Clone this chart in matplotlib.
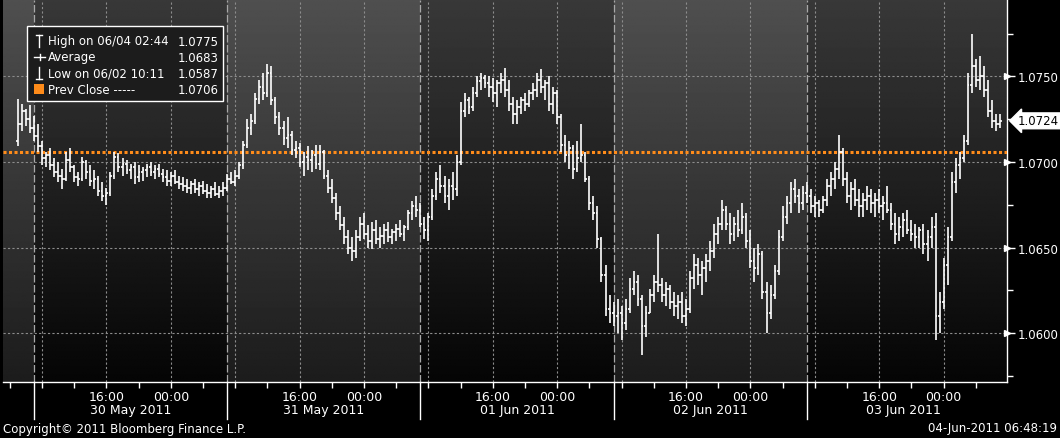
import matplotlib
matplotlib.use("Agg")
import matplotlib.dates as mdates
import matplotlib.pyplot as plt
import matplotlib.transforms as mtransforms
import numpy as np
import pandas as pd
from matplotlib.lines import Line2D
from matplotlib.patches import Rectangle
from matplotlib.ticker import FixedLocator, FormatStrFormatter

W, H = 1060, 439

# 30 minute bars, prices in pips (1e-4)
bar_start = "2011-05-30 05:00"
highs = [
    10737, 10734, 10731, 10733, 10727, 10722, 10712, 10706, 10708, 10702,
    10700, 10696, 10706, 10708, 10698, 10694, 10703, 10701, 10698, 10695,
    10692, 10688, 10685, 10694, 10706, 10705, 10702, 10701, 10699, 10700,
    10698, 10697, 10699, 10700, 10698, 10699, 10696, 10695, 10694, 10695,
    10692, 10691, 10690, 10689, 10690, 10688, 10689, 10687, 10686, 10688,
    10686, 10688, 10693, 10694, 10695, 10700, 10712, 10725, 10728, 10740,
    10748, 10752, 10757, 10756, 10738, 10729, 10724, 10726, 10718, 10712,
    10711, 10706, 10709, 10707, 10710, 10710, 10707, 10695, 10690, 10682,
    10674, 10668, 10660, 10656, 10660, 10668, 10670, 10663, 10665, 10666,
    10662, 10664, 10665, 10661, 10664, 10666, 10663, 10672, 10677, 10680,
    10676, 10668, 10670, 10684, 10694, 10698, 10692, 10690, 10694, 10704,
    10735, 10740, 10738, 10744, 10750, 10752, 10751, 10750, 10749, 10748,
    10752, 10755, 10748, 10738, 10736, 10738, 10740, 10742, 10746, 10752,
    10754, 10748, 10750, 10744, 10742, 10728, 10716, 10712, 10710, 10712,
    10722, 10706, 10692, 10680, 10674, 10656, 10640, 10622, 10618, 10620,
    10616, 10620, 10632, 10636, 10634, 10622, 10616, 10626, 10634, 10658,
    10632, 10630, 10628, 10624, 10622, 10624, 10620, 10636, 10646, 10644,
    10642, 10646, 10654, 10664, 10668, 10678, 10674, 10670, 10668, 10672,
    10676, 10670, 10660, 10650, 10652, 10648, 10630, 10628, 10640, 10660,
    10674, 10680, 10688, 10690, 10684, 10686, 10688, 10684, 10680, 10678,
    10680, 10690, 10694, 10700, 10716, 10708, 10694, 10688, 10690, 10684,
    10682, 10686, 10684, 10682, 10684, 10680, 10686, 10676, 10670, 10668,
    10670, 10672, 10666, 10664, 10662, 10664, 10660, 10668, 10670, 10624,
    10644, 10662, 10694, 10702, 10706, 10716, 10752, 10775, 10760, 10762,
    10756, 10748, 10736, 10728, 10728,
]
lows = [
    10709, 10718, 10721, 10717, 10712, 10706, 10698, 10697, 10695, 10691,
    10688, 10684, 10689, 10694, 10688, 10686, 10689, 10690, 10686, 10684,
    10680, 10677, 10675, 10680, 10690, 10694, 10692, 10693, 10690, 10687,
    10688, 10689, 10691, 10692, 10690, 10691, 10688, 10686, 10686, 10687,
    10684, 10683, 10682, 10681, 10682, 10680, 10681, 10679, 10679, 10680,
    10679, 10680, 10683, 10687, 10686, 10690, 10696, 10708, 10716, 10722,
    10734, 10736, 10738, 10733, 10722, 10716, 10710, 10708, 10704, 10702,
    10697, 10692, 10695, 10694, 10696, 10695, 10690, 10682, 10676, 10666,
    10660, 10652, 10646, 10642, 10644, 10654, 10655, 10650, 10649, 10652,
    10650, 10652, 10653, 10652, 10654, 10656, 10654, 10660, 10666, 10668,
    10662, 10655, 10654, 10666, 10678, 10682, 10676, 10672, 10678, 10680,
    10698, 10726, 10728, 10730, 10738, 10742, 10743, 10738, 10735, 10732,
    10740, 10738, 10730, 10722, 10722, 10728, 10730, 10732, 10736, 10738,
    10740, 10736, 10730, 10728, 10722, 10706, 10700, 10696, 10690, 10694,
    10700, 10688, 10672, 10666, 10650, 10630, 10610, 10606, 10604, 10600,
    10596, 10602, 10612, 10622, 10616, 10587, 10598, 10612, 10618, 10624,
    10618, 10616, 10614, 10610, 10608, 10606, 10604, 10612, 10626, 10628,
    10622, 10630, 10636, 10644, 10652, 10660, 10660, 10652, 10654, 10656,
    10658, 10650, 10638, 10630, 10634, 10620, 10600, 10608, 10620, 10634,
    10654, 10664, 10670, 10676, 10670, 10672, 10676, 10670, 10668, 10668,
    10670, 10674, 10680, 10684, 10690, 10686, 10676, 10672, 10674, 10668,
    10668, 10672, 10670, 10668, 10670, 10666, 10670, 10660, 10652, 10654,
    10656, 10658, 10654, 10650, 10650, 10646, 10642, 10650, 10596, 10600,
    10614, 10628, 10654, 10682, 10690, 10700, 10710, 10740, 10744, 10742,
    10738, 10726, 10720, 10718, 10720,
]
opens = [
    10712, 10722, 10730, 10725, 10720, 10715, 10709, 10702, 10704, 10698,
    10694, 10692, 10690, 10701, 10697, 10691, 10690, 10700, 10694, 10689,
    10690, 10683, 10680, 10682, 10692, 10703, 10697, 10699, 10695, 10697,
    10691, 10694, 10695, 10697, 10694, 10696, 10693, 10691, 10689, 10692,
    10688, 10687, 10686, 10685, 10687, 10684, 10686, 10683, 10682, 10684,
    10681, 10683, 10685, 10690, 10688, 10692, 10698, 10710, 10720, 10724,
    10737, 10744, 10740, 10752, 10736, 10726, 10720, 10714, 10716, 10707,
    10708, 10700, 10703, 10701, 10704, 10699, 10706, 10692, 10685, 10679,
    10670, 10663, 10656, 10650, 10648, 10656, 10664, 10658, 10654, 10660,
    10655, 10657, 10660, 10656, 10659, 10661, 10658, 10662, 10670, 10674,
    10672, 10664, 10660, 10668, 10680, 10690, 10686, 10680, 10686, 10684,
    10700, 10730, 10736, 10732, 10740, 10747, 10749, 10746, 10744, 10740,
    10746, 10748, 10742, 10734, 10728, 10732, 10736, 10734, 10740, 10742,
    10748, 10744, 10746, 10734, 10740, 10726, 10710, 10704, 10708, 10696,
    10702, 10704, 10690, 10676, 10670, 10655, 10634, 10614, 10612, 10610,
    10612, 10606, 10614, 10626, 10630, 10620, 10604, 10612, 10622, 10630,
    10628, 10622, 10626, 10618, 10616, 10618, 10610, 10614, 10632, 10640,
    10634, 10638, 10642, 10648, 10658, 10664, 10672, 10664, 10658, 10664,
    10660, 10668, 10654, 10642, 10638, 10646, 10624, 10612, 10622, 10636,
    10656, 10668, 10676, 10684, 10680, 10676, 10682, 10680, 10674, 10676,
    10672, 10678, 10686, 10690, 10696, 10706, 10690, 10680, 10684, 10678,
    10674, 10678, 10680, 10676, 10678, 10674, 10676, 10672, 10664, 10658,
    10662, 10666, 10660, 10658, 10656, 10660, 10652, 10656, 10662, 10610,
    10618, 10640, 10656, 10688, 10698, 10702, 10712, 10745, 10756, 10748,
    10750, 10742, 10730, 10724, 10722,
]
closes = [
    10722, 10730, 10725, 10720, 10715, 10709, 10702, 10704, 10698, 10694,
    10692, 10690, 10701, 10697, 10691, 10690, 10700, 10694, 10689, 10690,
    10683, 10680, 10682, 10692, 10703, 10697, 10699, 10695, 10697, 10691,
    10694, 10695, 10697, 10694, 10696, 10693, 10691, 10689, 10692, 10688,
    10687, 10686, 10685, 10687, 10684, 10686, 10683, 10682, 10684, 10681,
    10683, 10685, 10690, 10688, 10692, 10698, 10710, 10720, 10724, 10737,
    10744, 10740, 10752, 10736, 10726, 10720, 10714, 10716, 10707, 10708,
    10700, 10703, 10701, 10704, 10699, 10706, 10692, 10685, 10679, 10670,
    10663, 10656, 10650, 10648, 10656, 10664, 10658, 10654, 10660, 10655,
    10657, 10660, 10656, 10659, 10661, 10658, 10662, 10670, 10674, 10672,
    10664, 10660, 10668, 10680, 10690, 10686, 10680, 10686, 10684, 10700,
    10730, 10736, 10732, 10740, 10747, 10749, 10746, 10744, 10740, 10746,
    10748, 10742, 10734, 10728, 10732, 10736, 10734, 10740, 10742, 10748,
    10744, 10746, 10734, 10740, 10726, 10710, 10704, 10708, 10696, 10702,
    10704, 10690, 10676, 10670, 10655, 10634, 10614, 10612, 10610, 10612,
    10606, 10614, 10626, 10630, 10620, 10604, 10612, 10622, 10630, 10628,
    10622, 10626, 10618, 10616, 10618, 10610, 10614, 10632, 10640, 10634,
    10638, 10642, 10648, 10658, 10664, 10672, 10664, 10658, 10664, 10660,
    10668, 10654, 10642, 10638, 10646, 10624, 10612, 10622, 10636, 10656,
    10668, 10676, 10684, 10680, 10676, 10682, 10680, 10674, 10676, 10672,
    10678, 10686, 10690, 10696, 10706, 10690, 10680, 10684, 10678, 10674,
    10678, 10680, 10676, 10678, 10674, 10676, 10672, 10664, 10658, 10662,
    10666, 10660, 10658, 10656, 10660, 10652, 10656, 10662, 10610, 10618,
    10640, 10656, 10688, 10698, 10702, 10712, 10745, 10756, 10748, 10750,
    10742, 10730, 10724, 10722, 10724,
]

prev_close = 1.0706
last_price = 1.0724
stat_labels = ["High on 06/04 02:44", "Average", "Low on 06/02 10:11", "Prev Close -----"]
stat_values = ["1.0775", "1.0683", "1.0587", "1.0706"]
day_starts = ["2011-05-30 07:00", "2011-05-31 07:00", "2011-06-01 07:00",
              "2011-06-02 07:00", "2011-06-03 07:00"]
day_labels = ["30 May 2011", "31 May 2011", "01 Jun 2011", "02 Jun 2011", "03 Jun 2011"]
price_ticks = [1.0600, 1.0650, 1.0700, 1.0750]
price_minor = [1.0575, 1.0625, 1.0675, 1.0725, 1.0775]

plt.rcParams["font.family"] = ["DejaVu Sans"]
FS = 8.5
ORANGE = "#ff8c1a"


def fx(x):
    return x / W


def fy(y):
    return 1 - y / H


times = pd.date_range(bar_start, periods=len(closes), freq="30min")
t = mdates.date2num(times)
hi = np.array(highs) / 1e4
lo = np.array(lows) / 1e4
op = np.array(opens) / 1e4
cl = np.array(closes) / 1e4

# axis limits follow the reference layout (8.05 px per hour)
px_hour = 8.05
t_ref = pd.Timestamp("2011-05-30 08:00")
x_left = t_ref - pd.Timedelta(hours=39 / px_hour)
x_right = x_left + pd.Timedelta(hours=1004 / px_hour)
y_lo, y_hi = 1.057144, 1.079457

fig = plt.figure(figsize=(W / 100, H / 100), dpi=100, facecolor="black")
ax = fig.add_axes([fx(3), fy(383), 1004 / W, 382 / H])
ax.set_facecolor("black")

# day panels, alternating shade with vertical gradient
bounds = [x_left] + [pd.Timestamp(d) for d in day_starts] + [x_right]
for k in range(len(bounds) - 1):
    top, bottom = (0.31, 0.11) if k % 2 == 0 else (0.22, 0.02)
    grad = np.linspace(top, bottom, 256).reshape(-1, 1)
    ax.imshow(grad, cmap="gray", vmin=0, vmax=1, aspect="auto", origin="upper",
              interpolation="bilinear", zorder=0,
              extent=[mdates.date2num(bounds[k]), mdates.date2num(bounds[k + 1]), y_lo, y_hi])

# grid
for p in price_ticks:
    ax.axhline(p, color="#8c8c8c", lw=0.8, ls=(0, (2, 2)), zorder=1)
for g in pd.date_range("2011-05-30 08:00", "2011-06-04 08:00", freq="8h"):
    ax.axvline(g, color="#8c8c8c", lw=0.8, ls=(0, (2, 2)), zorder=1)
for d in day_starts:
    ax.axvline(pd.Timestamp(d), color="#a8a8a8", lw=0.9, ls=(0, (6, 2)), zorder=1)

ax.axhline(prev_close, color=ORANGE, lw=2.2, ls=(0, (1, 0.8)), zorder=4)

# OHLC bars
tick = 13 / 1440
ax.vlines(t, lo, hi, color="white", lw=1.2, zorder=5)
ax.hlines(op, t - tick, t, color="white", lw=1.2, zorder=5)
ax.hlines(cl, t, t + tick, color="white", lw=1.2, zorder=5)

ax.set_xlim(mdates.date2num(x_left), mdates.date2num(x_right))
ax.set_ylim(y_lo, y_hi)

for side in ["left", "top"]:
    ax.spines[side].set_visible(False)
for side in ["right", "bottom"]:
    ax.spines[side].set_color("white")
    ax.spines[side].set_linewidth(1.0)

ax.yaxis.tick_right()
ax.yaxis.set_major_locator(FixedLocator(price_ticks))
ax.yaxis.set_minor_locator(FixedLocator(price_minor))
ax.yaxis.set_major_formatter(FormatStrFormatter("%.4f"))
ax.tick_params(axis="y", which="major", colors="white", length=6, width=1,
               pad=2, labelsize=FS)
ax.tick_params(axis="y", which="minor", colors="white", length=4, width=1)
ax.plot([1.0] * len(price_ticks), price_ticks, ls="none", marker=">", ms=4,
        color="white", transform=ax.get_yaxis_transform(), clip_on=False, zorder=6)

ax.xaxis.set_major_locator(mdates.HourLocator(byhour=[0, 16]))
ax.xaxis.set_major_formatter(mdates.DateFormatter("%H:%M"))
ax.xaxis.set_minor_locator(mdates.HourLocator(byhour=range(0, 24, 4)))
ax.tick_params(axis="x", which="both", colors="white", length=4, width=1,
               pad=2, labelsize=FS + 0.5)

# day separators below the axis and date labels
for d in day_starts:
    ax.add_line(Line2D([mdates.date2num(pd.Timestamp(d))] * 2, [0, -37 / 382],
                       transform=ax.get_xaxis_transform(), color="white", lw=1,
                       clip_on=False))
for k, lab in enumerate(day_labels):
    mid = mdates.date2num(pd.Timestamp(day_starts[k]) + pd.Timedelta(hours=12))
    ax.text(mid, -28 / 382, lab, transform=ax.get_xaxis_transform(), color="white",
            fontsize=FS + 0.5, ha="center", va="center")

# last price tag on the right axis
tag = ax.get_yaxis_transform() + mtransforms.ScaledTranslation(11 / 100, 0, fig.dpi_scale_trans)
ax.text(1.0, last_price, f"{last_price:.4f}", transform=tag, color="black",
        fontsize=FS, ha="left", va="center", zorder=7, clip_on=False,
        bbox=dict(boxstyle="larrow,pad=0.12", fc="white", ec="white"))

# statistics box
fig.add_artist(Rectangle((fx(27), fy(102)), 196 / W, 75 / H, transform=fig.transFigure,
                         fc="#1c1c1c", ec="white", lw=1.0, zorder=8))
rows = [42, 58, 74, 90]
for y, lab, val in zip(rows, stat_labels, stat_values):
    fig.text(fx(48), fy(y), lab, color="white", fontsize=FS, ha="left", va="center", zorder=9)
    fig.text(fx(219), fy(y), val, color="white", fontsize=FS, ha="right", va="center", zorder=9)

icon = dict(color="white", lw=1.0, transform=fig.transFigure, zorder=9)
fig.add_artist(Line2D([fx(39), fx(39)], [fy(36), fy(48)], **icon))
fig.add_artist(Line2D([fx(36), fx(42)], [fy(36), fy(36)], **icon))
fig.add_artist(Line2D([fx(34), fx(45)], [fy(58), fy(58)], **icon))
fig.add_artist(Line2D([fx(39.5), fx(39.5)], [fy(55), fy(61)], **icon))
fig.add_artist(Line2D([fx(39), fx(39)], [fy(68), fy(80)], **icon))
fig.add_artist(Line2D([fx(36), fx(42)], [fy(80), fy(80)], **icon))
fig.add_artist(Rectangle((fx(34), fy(95)), 10 / W, 10 / H, transform=fig.transFigure,
                         fc=ORANGE, ec="none", zorder=9))

fig.text(fx(3), fy(430), "Copyright\u00a9 2011 Bloomberg Finance L.P.", color="white",
         fontsize=FS, ha="left", va="center")
fig.text(fx(1057), fy(429), "04-Jun-2011 06:48:19", color="white",
         fontsize=FS, ha="right", va="center")

fig.savefig("out.png", dpi=100, facecolor="black")
